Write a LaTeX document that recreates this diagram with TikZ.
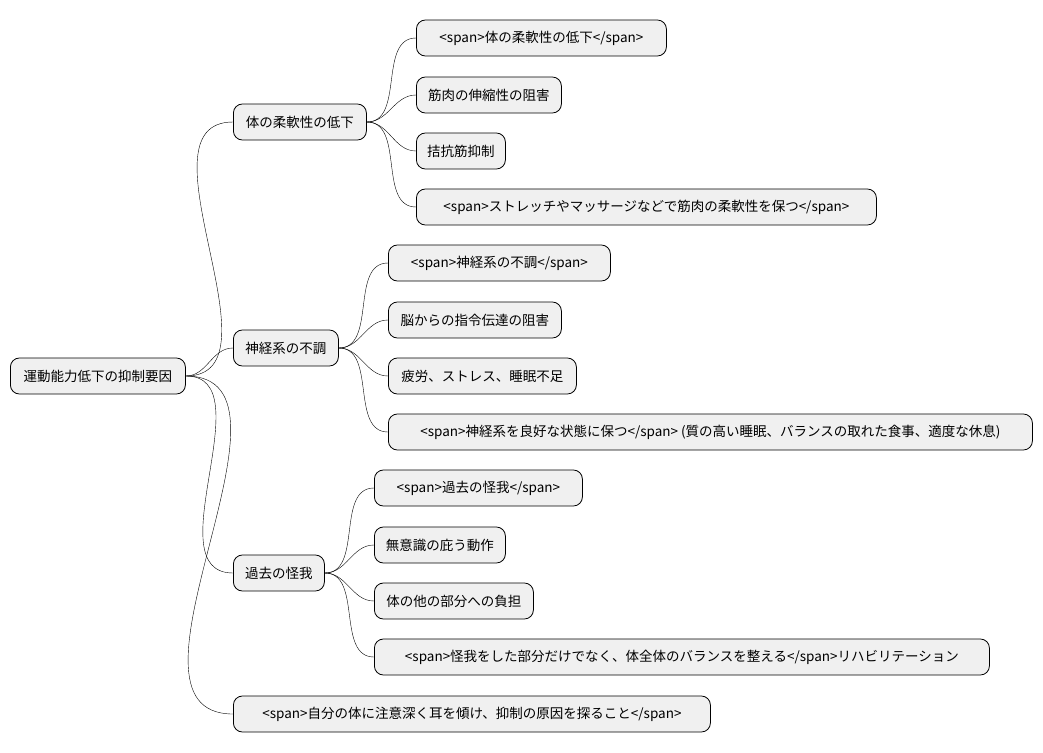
\documentclass[tikz,border=0pt]{standalone}
\usepackage{fontspec}
\setmainfont{Noto Sans CJK JP}
\usetikzlibrary{positioning}
\begin{document}
\begin{tikzpicture}[x=1pt,y=-1pt,%%
  boxStyle/.style={draw,thick,rounded corners=9pt,fill=black!6,anchor=west,%%
    minimum height=36pt,inner xsep=8pt,font=\fontsize{13.5}{15}\selectfont},%%
  linkStyle/.style={-,thin}
]
\useasboundingbox (0,0) rectangle (1043,752);
%%
%% The root and the first level.
\node[boxStyle,minimum width=175pt] (root) at (10,376) {運動能力低下の抑制要因};
\node[boxStyle,minimum width=133pt] (flex) at (233,122) {体の柔軟性の低下};
\node[boxStyle,minimum width=105pt] (nerve) at (233,348) {神経系の不調};
\node[boxStyle,minimum width=91pt] (injury) at (233,573) {過去の怪我};
\node[boxStyle,minimum width=477pt] (listen) at (233,714) {<span>自分の体に注意深く耳を傾け、抑制の原因を探ること</span>};
%%
%% The leaves.
\node[boxStyle,minimum width=250pt] (flexA) at (416,38) {<span>体の柔軟性の低下</span>};
\node[boxStyle,minimum width=145pt] (flexB) at (416,95) {筋肉の伸縮性の阻害};
\node[boxStyle,minimum width=89pt] (flexC) at (416,151) {拮抗筋抑制};
\node[boxStyle,minimum width=460pt] (flexD) at (416,207) {<span>ストレッチやマッサージなどで筋肉の柔軟性を保つ</span>};
\node[boxStyle,minimum width=222pt] (nerveA) at (388,263) {<span>神経系の不調</span>};
\node[boxStyle,minimum width=173pt] (nerveB) at (388,320) {脳からの指令伝達の阻害};
\node[boxStyle,minimum width=188pt] (nerveC) at (388,376) {疲労、ストレス、睡眠不足};
\node[boxStyle,minimum width=644pt] (nerveD) at (388,432) {<span>神経系を良好な状態に保つ</span> (質の高い睡眠、バランスの取れた食事、適度な休息)};
\node[boxStyle,minimum width=208pt] (injuryA) at (374,488) {<span>過去の怪我</span>};
\node[boxStyle,minimum width=131pt] (injuryB) at (374,545) {無意識の庇う動作};
\node[boxStyle,minimum width=159pt] (injuryC) at (374,601) {体の他の部分への負担};
\node[boxStyle,minimum width=615pt] (injuryD) at (374,657) {<span>怪我をした部分だけでなく、体全体のバランスを整える</span>リハビリテーション};
%%
%% The connectors.
\foreach \child in {flex,nerve,injury,listen}
  \draw[linkStyle] (root.east) to[out=0,in=180] (\child.west);
\foreach \parent in {flex,nerve,injury}
  \foreach \leaf in {A,B,C,D}
    \draw[linkStyle] (\parent.east) to[out=0,in=180] (\parent\leaf.west);
\end{tikzpicture}
\end{document}
